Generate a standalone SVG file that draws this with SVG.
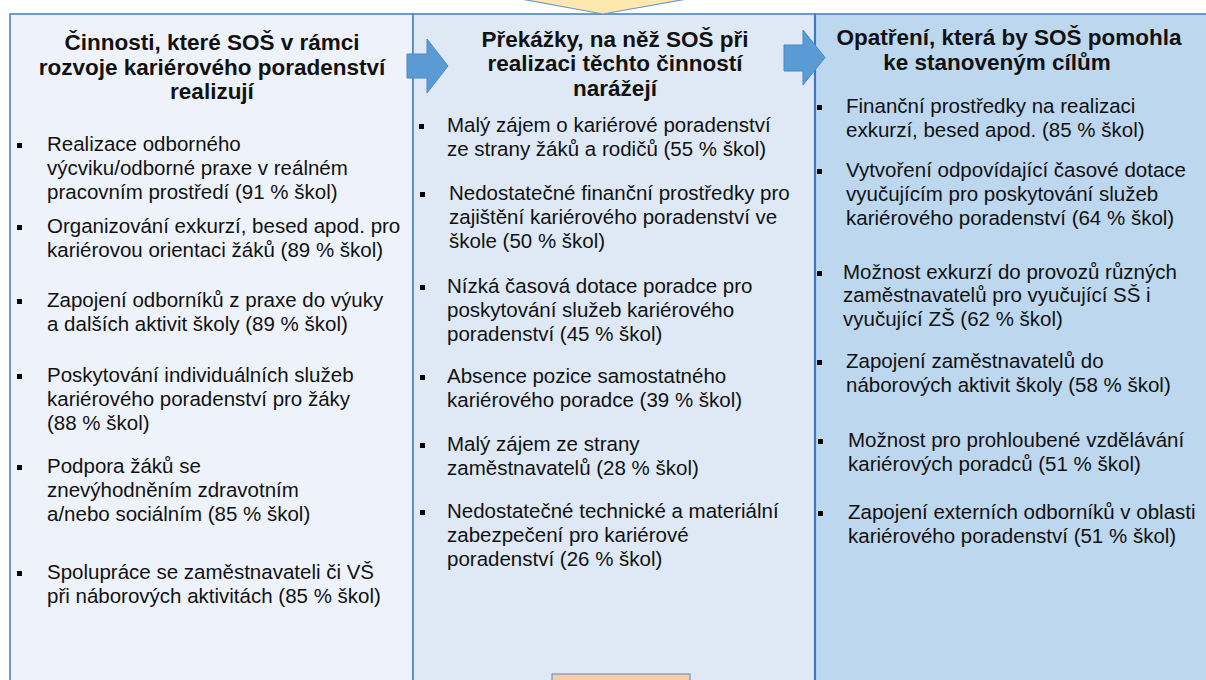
<svg xmlns="http://www.w3.org/2000/svg" width="1206" height="680" viewBox="0 0 1206 680">
<style>
.hd{font-family:"Liberation Sans",Arial,sans-serif;font-size:22.5px;font-weight:bold;fill:#111;text-anchor:middle}
.tx{font-family:"Liberation Sans",Arial,sans-serif;font-size:20.5px;fill:#111}
.bl{fill:#000}
.col{stroke:#4F83C4;stroke-width:1.6}
.arr{fill:#5B9BD5;stroke:#4A86C6;stroke-width:1}
</style>
<rect x="0" y="0" width="1206" height="680" fill="#ffffff"/>
<g id="col1">
<rect class="col" x="10" y="14" width="403" height="700" fill="#EEF3FB"/>
<text class="hd" x="212" y="50">Činnosti, které SOŠ v rámci</text>
<text class="hd" x="212" y="75">rozvoje kariérového poradenství</text>
<text class="hd" x="212" y="99">realizují</text>
<rect class="bl" x="17" y="143" width="5" height="5"/><text class="tx" x="47" y="151">Realizace odborného</text>
<text class="tx" x="47" y="175">výcviku/odborné praxe v reálném</text>
<text class="tx" x="47" y="199">pracovním prostředí (91 % škol)</text>
<rect class="bl" x="17" y="225" width="5" height="5"/><text class="tx" x="47" y="233">Organizování exkurzí, besed apod. pro</text>
<text class="tx" x="47" y="257">kariérovou orientaci žáků (89 % škol)</text>
<rect class="bl" x="17" y="299" width="5" height="5"/><text class="tx" x="47" y="307">Zapojení odborníků z praxe do výuky</text>
<text class="tx" x="47" y="331">a dalších aktivit školy (89 % škol)</text>
<rect class="bl" x="17" y="374" width="5" height="5"/><text class="tx" x="47" y="382">Poskytování individuálních služeb</text>
<text class="tx" x="47" y="406">kariérového poradenství pro žáky</text>
<text class="tx" x="47" y="430">(88 % škol)</text>
<rect class="bl" x="17" y="465" width="5" height="5"/><text class="tx" x="47" y="473">Podpora žáků se</text>
<text class="tx" x="47" y="497">znevýhodněním zdravotním</text>
<text class="tx" x="47" y="521">a/nebo sociálním (85 % škol)</text>
<rect class="bl" x="17" y="571" width="5" height="5"/><text class="tx" x="47" y="579">Spolupráce se zaměstnavateli či VŠ</text>
<text class="tx" x="47" y="603">při náborových aktivitách (85 % škol)</text>
</g>
<g id="col2">
<rect class="col" x="413" y="14" width="402" height="700" fill="#DEE9F5"/>
<text class="hd" x="615" y="47">Překážky, na něž SOŠ při</text>
<text class="hd" x="615" y="71">realizaci těchto činností</text>
<text class="hd" x="615" y="96">narážejí</text>
<rect class="bl" x="419" y="124" width="5" height="5"/><text class="tx" x="447" y="132">Malý zájem o kariérové poradenství</text>
<text class="tx" x="447" y="156">ze strany žáků a rodičů (55 % škol)</text>
<rect class="bl" x="420" y="192" width="5" height="5"/><text class="tx" x="449" y="200">Nedostatečné finanční prostředky pro</text>
<text class="tx" x="449" y="224">zajištění kariérového poradenství ve</text>
<text class="tx" x="449" y="248">škole (50 % škol)</text>
<rect class="bl" x="420" y="285" width="5" height="5"/><text class="tx" x="447" y="293">Nízká časová dotace poradce pro</text>
<text class="tx" x="447" y="317">poskytování služeb kariérového</text>
<text class="tx" x="447" y="341">poradenství (45 % škol)</text>
<rect class="bl" x="420" y="375" width="5" height="5"/><text class="tx" x="447" y="383">Absence pozice samostatného</text>
<text class="tx" x="447" y="407">kariérového poradce (39 % škol)</text>
<rect class="bl" x="420" y="443" width="5" height="5"/><text class="tx" x="447" y="451">Malý zájem ze strany</text>
<text class="tx" x="447" y="475">zaměstnavatelů (28 % škol)</text>
<rect class="bl" x="420" y="510" width="5" height="5"/><text class="tx" x="447" y="518">Nedostatečné technické a materiální</text>
<text class="tx" x="447" y="542">zabezpečení pro kariérové</text>
<text class="tx" x="447" y="566">poradenství (26 % škol)</text>
</g>
<g id="col3">
<rect x="815" y="14" width="400" height="700" fill="#BDD7EE" stroke="#4F83C4" stroke-width="1.6"/>
<line x1="815" y1="14" x2="815" y2="680" stroke="#3E78C0" stroke-width="2.2"/>
<text class="hd" x="1009" y="45">Opatření, která by SOŠ pomohla</text>
<text class="hd" x="997" y="70">ke stanoveným cílům</text>
<rect class="bl" x="817" y="105" width="5" height="5"/><text class="tx" x="846" y="113">Finanční prostředky na realizaci</text>
<text class="tx" x="846" y="137">exkurzí, besed apod. (85 % škol)</text>
<rect class="bl" x="817" y="169" width="5" height="5"/><text class="tx" x="846" y="177">Vytvoření odpovídající časové dotace</text>
<text class="tx" x="846" y="201">vyučujícím pro poskytování služeb</text>
<text class="tx" x="846" y="225">kariérového poradenství (64 % škol)</text>
<rect class="bl" x="817" y="271" width="5" height="5"/><text class="tx" x="843" y="279">Možnost exkurzí do provozů různých</text>
<text class="tx" x="843" y="302">zaměstnavatelů pro vyučující SŠ i</text>
<text class="tx" x="843" y="326">vyučující ZŠ (62 % škol)</text>
<rect class="bl" x="817" y="360" width="5" height="5"/><text class="tx" x="846" y="368">Zapojení zaměstnavatelů do</text>
<text class="tx" x="846" y="392">náborových aktivit školy (58 % škol)</text>
<rect class="bl" x="818" y="439" width="5" height="5"/><text class="tx" x="848" y="447">Možnost pro prohloubené vzdělávání</text>
<text class="tx" x="848" y="471">kariérových poradců (51 % škol)</text>
<rect class="bl" x="818" y="511" width="5" height="5"/><text class="tx" x="848" y="519">Zapojení externích odborníků v oblasti</text>
<text class="tx" x="848" y="543">kariérového poradenství (51 % škol)</text>
</g>
<g id="top-arrow">
<polygon points="521,-1 603,14 687,-1" fill="#FFE8B0" stroke="#6F96C8" stroke-width="1.2"/>
</g>
<g id="bottom-box">
<rect x="552" y="674" width="138" height="20" fill="#FBCBA4" stroke="#6F96C8" stroke-width="1.2"/>
</g>
<g id="connectors">
<polygon class="arr" points="407,54 427,54 427,39 448,66 427,93 427,78 407,78"/>
<polygon class="arr" points="784,45 803,45 803,30 825,57.5 803,85 803,71 784,71"/>
</g>
</svg>
